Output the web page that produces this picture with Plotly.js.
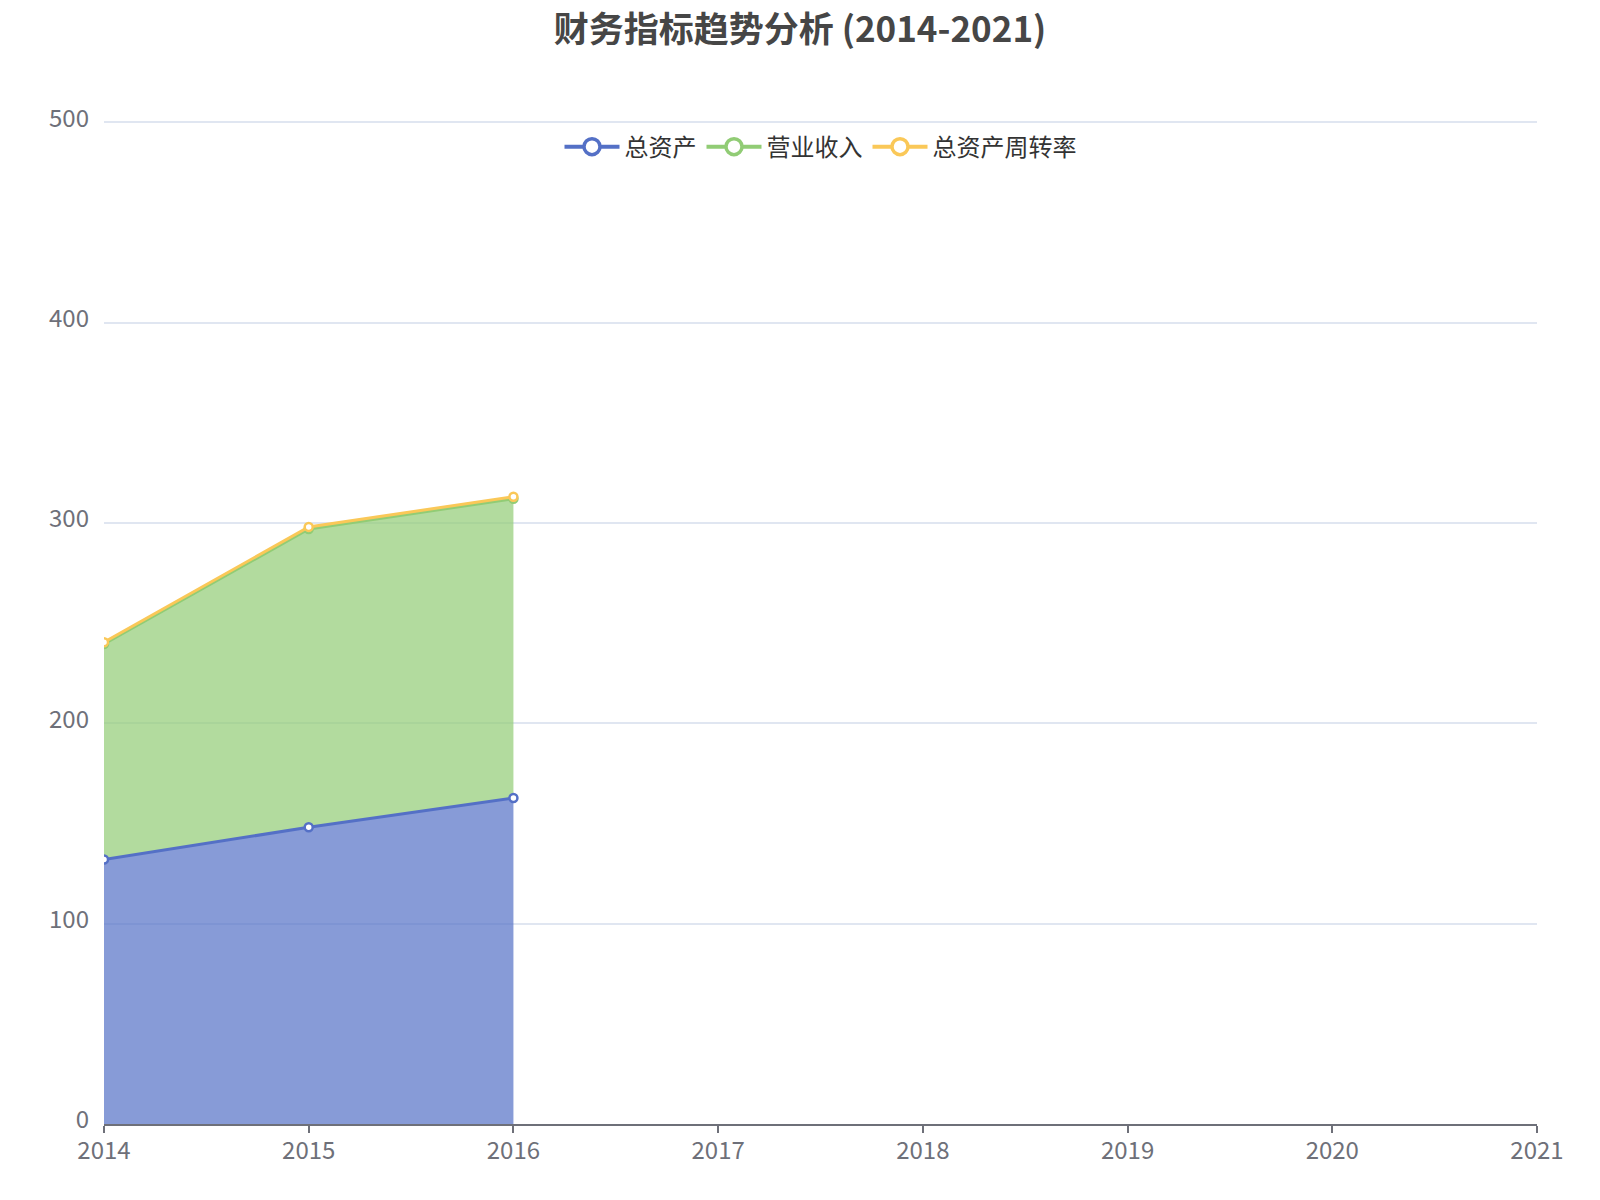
<!DOCTYPE html>
<html>
<head>
<meta charset="utf-8">
<script src="https://cdn.plot.ly/plotly-3.0.1.min.js"></script>
<style>
  body { margin: 0; background: #fff; }
  #myDiv { width: 1600px; height: 1200px; }
</style>
</head>
<body>
<div id="myDiv"></div>
<script>
const years = [2014, 2015, 2016]
const totalAssets = [132.0, 148.1, 162.7]
const revenue = [107.6, 148.9, 149.4]
const turnover = [0.82, 1.01, 0.92]

const seriesNames = ['总资产', '营业收入', '总资产周转率']
const colors = ['#5470c6', '#91cc75', '#fac858']
const fills = ['rgba(84,112,198,0.7)', 'rgba(145,204,117,0.7)', 'rgba(250,200,88,0.7)']
const values = [totalAssets, revenue, turnover]

// stacked areas
const data = values.map((v, i) => ({
  x: years,
  y: v,
  name: seriesNames[i],
  type: 'scatter',
  mode: 'lines+markers',
  stackgroup: 'one',
  fillcolor: fills[i],
  showlegend: false,
  line: {color: colors[i], width: 3},
  marker: {size: 8, color: '#ffffff', line: {color: colors[i], width: 2.5}}
}))

// legend entries only (line + open circle like the original)
seriesNames.forEach((name, i) => {
  data.push({
    x: [null],
    y: [null],
    name: name,
    type: 'scatter',
    mode: 'lines+markers',
    line: {color: colors[i], width: 4},
    marker: {size: 16, color: '#ffffff', line: {color: colors[i], width: 3.5}}
  })
})

const fontFamily = '"Noto Sans CJK SC", "Noto Sans", sans-serif'

const layout = {
  width: 1600,
  height: 1200,
  margin: {l: 104, r: 63, t: 121, b: 76},
  paper_bgcolor: '#ffffff',
  plot_bgcolor: '#ffffff',
  font: {family: fontFamily, color: '#6e7079', size: 24},
  title: {
    text: '<b>财务指标趋势分析 (2014-2021)</b>',
    font: {family: fontFamily, size: 35, color: '#464646'},
    x: 0.5,
    xanchor: 'center',
    xref: 'container',
    yref: 'container',
    y: 0.975,
    yanchor: 'middle'
  },
  showlegend: true,
  legend: {
    orientation: 'h',
    traceorder: 'normal',
    x: 0.5,
    xanchor: 'center',
    y: 0.974,
    yanchor: 'middle',
    font: {family: fontFamily, size: 24, color: '#333333'},
    itemwidth: 55,
    bgcolor: 'rgba(0,0,0,0)'
  },
  xaxis: {
    type: 'linear',
    range: [2014, 2021],
    tickmode: 'linear',
    tick0: 2014,
    dtick: 1,
    showgrid: false,
    zeroline: false,
    showline: true,
    linecolor: '#6e7079',
    linewidth: 2,
    ticks: 'outside',
    ticklen: 7,
    tickwidth: 2,
    tickcolor: '#6e7079',
    ticklabelstandoff: -3,
    tickfont: {size: 24, color: '#6e7079'}
  },
  yaxis: {
    range: [0, 500.6],
    tickmode: 'linear',
    tick0: 0,
    dtick: 100,
    showgrid: true,
    gridcolor: '#e0e6f1',
    gridwidth: 2,
    zeroline: false,
    showline: false,
    ticks: '',
    ticklabelstandoff: 14,
    ticklabelshift: -4,
    tickfont: {size: 24, color: '#6e7079'}
  }
}

Plotly.newPlot('myDiv', data, layout, {displayModeBar: false})
</script>
</body>
</html>
